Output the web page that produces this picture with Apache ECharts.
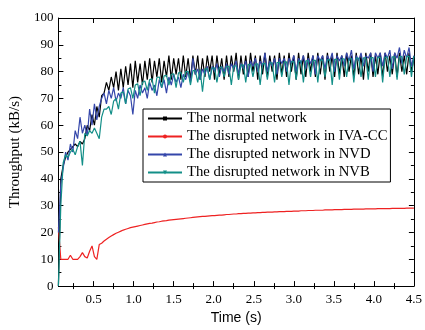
<!DOCTYPE html>
<html>
<head>
<meta charset="utf-8">
<script src="https://cdn.jsdelivr.net/npm/echarts@6/dist/echarts.min.js"></script>
<style>
  html, body { margin: 0; padding: 0; background: #fff; }
  #chart { width: 425px; height: 330px; }
</style>
</head>
<body>
<div id="chart"></div>
<script>
// time samples (s)
const TIME = [
  0.06,0.09,0.12,0.15,0.18,0.21,0.24,0.27,0.30,0.33,
  0.36,0.39,0.42,0.45,0.48,0.51,0.54,0.57,0.60,0.63,
  0.66,0.69,0.72,0.75,0.78,0.81,0.84,0.87,0.90,0.93,
  0.96,0.99,1.02,1.05,1.08,1.11,1.14,1.17,1.20,1.23,
  1.26,1.29,1.32,1.35,1.38,1.41,1.44,1.47,1.50,1.53,
  1.56,1.59,1.62,1.65,1.68,1.71,1.74,1.77,1.80,1.83,
  1.86,1.89,1.92,1.95,1.98,2.01,2.04,2.07,2.10,2.13,
  2.16,2.19,2.22,2.25,2.28,2.31,2.34,2.37,2.40,2.43,
  2.46,2.49,2.52,2.55,2.58,2.61,2.64,2.67,2.70,2.73,
  2.76,2.79,2.82,2.85,2.88,2.91,2.94,2.97,3.00,3.03,
  3.06,3.09,3.12,3.15,3.18,3.21,3.24,3.27,3.30,3.33,
  3.36,3.39,3.42,3.45,3.48,3.51,3.54,3.57,3.60,3.63,
  3.66,3.69,3.72,3.75,3.78,3.81,3.84,3.87,3.90,3.93,
  3.96,3.99,4.02,4.05,4.08,4.11,4.14,4.17,4.20,4.23,
  4.26,4.29,4.32,4.35,4.38,4.41,4.44,4.47,4.50
];

// throughput (kB/s), one value per TIME sample
const NORMAL = [
  0,40,45,48,50,51,52,53,52,54,
  53,55,60,58,64,60,67,63,71,72,
  76,73,78,74,80,73,81,74,82,75,
  83,74,84,76,83,75,84,77,85,76,
  84,78,85,76,84,78,86,77,85,79,
  85,77,86,78,85,77,86,79,86,77,
  85,78,86,80,86,77,86,79,85,77,
  86,78,86,80,87,77,86,79,86,78,
  87,80,86,77,86,79,87,78,86,80,
  86,77,87,79,86,78,87,80,86,77,
  87,79,86,78,87,80,86,78,87,79,
  86,77,87,80,86,78,87,79,86,78,
  87,80,86,78,87,79,86,77,87,80,
  87,78,86,79,87,78,87,80,86,79,
  87,78,87,80,86,79,87,80,85
];

const IVACC = [
  22,10,10,10,10,11.5,10,10,10,11,
  12.5,11,10.5,13,15,11,10,15.5,16,16.8,
  17.5,18.1,18.7,19.2,19.7,20.1,20.5,20.9,21.2,21.5,
  21.8,22.0,22.2,22.4,22.6,22.8,23.0,23.2,23.4,23.5,
  23.7,23.9,24.0,24.2,24.3,24.4,24.6,24.7,24.8,24.9,
  25.0,25.1,25.2,25.3,25.4,25.5,25.6,25.7,25.8,25.9,
  26.0,26.0,26.1,26.2,26.3,26.3,26.4,26.5,26.5,26.6,
  26.7,26.7,26.8,26.9,26.9,27.0,27.0,27.1,27.1,27.2,
  27.2,27.3,27.3,27.4,27.4,27.5,27.5,27.6,27.6,27.6,
  27.7,27.7,27.8,27.8,27.8,27.9,27.9,27.9,28.0,28.0,
  28.0,28.1,28.1,28.1,28.2,28.2,28.2,28.3,28.3,28.3,
  28.3,28.4,28.4,28.4,28.4,28.5,28.5,28.5,28.5,28.6,
  28.6,28.6,28.6,28.7,28.7,28.7,28.7,28.7,28.8,28.8,
  28.8,28.8,28.8,28.9,28.9,28.9,28.9,28.9,28.9,29.0,
  29.0,29.0,29.0,29.0,29.0,29.1,29.1,29.1,29.1
];

const NVD = [
  20,38,44,50,47,53,50,58,55,63,
  57,60,56,66,60,68,62,67,70,72,
  68,73,70,74,69,72,70,74,68,73,
  71,64,73,70,75,72,74,70,76,73,
  75,71,77,74,77,72,78,75,79,76,
  78,74,79,77,80,76,85,79,81,77,
  81,79,82,77,82,80,83,78,82,80,
  83,79,83,81,84,79,83,81,84,78,
  84,82,85,80,84,82,87,80,84,82,
  85,79,85,83,85,80,85,83,86,80,
  85,83,86,81,85,83,86,79,86,84,
  86,81,86,84,87,80,86,84,86,82,
  87,84,88,81,86,84,87,82,86,85,
  87,80,87,85,87,82,87,85,88,81,
  87,85,89,83,88,85,89,82,86
];

const NVB = [
  0,30,46,49,48,50,51,49,52,54,
  45,57,56,58,57,59,57,55,63,66,
  66,67,64,69,70,66,72,72.5,68,73.5,
  74,70,75,75.5,71,76,76.5,73,77,77.3,
  72,77.8,78,74,78.4,78.6,75,79,79.2,74,
  79.5,79.7,76,80,80.1,75,80.4,80.5,76,80.8,
  72.5,81,81.1,77,81.3,81.4,76,81.6,81.7,78,
  81.9,82,75,82.1,82.2,77,82.4,82.5,76,82.6,
  82.7,78,82.8,82.9,75,83,83.1,77,83.2,83.3,
  76,83.4,83.5,78,83.6,83.6,75,83.7,83.8,77,
  83.9,84,76,84,84.1,78,84.2,84.2,76,84.3,
  84.4,78,84.4,84.5,75,84.6,84.6,77,84.7,84.8,
  78,84.8,84.9,76,85,85,78,85.1,85.1,77,
  85.2,85.2,78,85.3,85.3,76,85.4,85.4,78,85.5,
  85.5,77,85.6,85.6,79,85.7,85.7,78,85.8
];

const SERIES_NAMES = [
  'The normal network',
  'The disrupted network in IVA-CC',
  'The disrupted network in NVD',
  'The disrupted network in NVB'
];
const X_MAJOR = [0.5, 1.0, 1.5, 2.0, 2.5, 3.0, 3.5, 4.0, 4.5];
const X_MINOR = [0.25, 0.75, 1.25, 1.75, 2.25, 2.75, 3.25, 3.75, 4.25];

const SERIF = '"Liberation Serif", "Times New Roman", serif';
const SANS = '"Liberation Sans", Arial, sans-serif';

const chart = echarts.init(document.getElementById('chart'), null, { renderer: 'canvas' });

function pairs(ys) {
  return TIME.map((t, i) => [t, ys[i]]);
}

function line(name, ys, color, symbol, rotate) {
  return {
    name,
    type: 'line',
    data: pairs(ys),
    xAxisIndex: 0,
    yAxisIndex: 0,
    symbol,
    symbolRotate: rotate || 0,
    showSymbol: false,
    silent: true,
    lineStyle: { width: 1.2, color },
    itemStyle: { color },
    emphasis: { disabled: true }
  };
}

const axisLine = { show: true, onZero: false, lineStyle: { color: '#000', width: 1 } };

const xBase = {
  type: 'value',
  min: 0.06,
  max: 4.5,
  splitLine: { show: false },
  axisLine
};

const option = {
  animation: false,
  backgroundColor: '#fff',
  grid: { left: 57, right: 7, top: 18, bottom: 43 },
  legend: {
    data: SERIES_NAMES,
    orient: 'vertical',
    left: 143,
    top: 109,
    itemWidth: 34,
    itemHeight: 5,
    itemGap: 3,
    padding: [2, 3, 2, 4],
    borderColor: '#000',
    borderWidth: 1,
    backgroundColor: '#fff',
    selectedMode: false,
    textStyle: { fontFamily: SERIF, fontSize: 14.7, color: '#000' }
  },
  xAxis: [
    Object.assign({}, xBase, {
      position: 'bottom',
      axisTick: { show: true, inside: true, length: 5, customValues: X_MAJOR, lineStyle: { color: '#000' } },
      axisLabel: {
        customValues: X_MAJOR,
        formatter: (v) => v.toFixed(1),
        fontFamily: SERIF, fontSize: 13, color: '#000', margin: 7
      },
      name: 'Time (s)',
      nameLocation: 'middle',
      nameGap: 21,
      nameTextStyle: { fontFamily: SANS, fontSize: 14, color: '#000' }
    }),
    Object.assign({}, xBase, {
      position: 'bottom',
      axisLine: { show: false },
      axisTick: { show: true, inside: true, length: 3, customValues: X_MINOR, lineStyle: { color: '#000' } },
      axisLabel: { show: false }
    }),
    Object.assign({}, xBase, {
      position: 'top',
      axisTick: { show: true, inside: true, length: 5, customValues: X_MAJOR, lineStyle: { color: '#000' } },
      axisLabel: { show: false }
    }),
    Object.assign({}, xBase, {
      position: 'top',
      axisLine: { show: false },
      axisTick: { show: true, inside: true, length: 3, customValues: X_MINOR, lineStyle: { color: '#000' } },
      axisLabel: { show: false }
    })
  ],
  yAxis: [
    {
      type: 'value',
      position: 'left',
      min: 0,
      max: 100,
      interval: 10,
      axisLine,
      axisTick: { show: true, inside: true, length: 5, lineStyle: { color: '#000' } },
      minorTick: { show: true, splitNumber: 2, length: 3, lineStyle: { color: '#000' } },
      splitLine: { show: false },
      axisLabel: { fontFamily: SERIF, fontSize: 13, color: '#000', margin: 5 },
      name: 'Throughput (kB/s)',
      nameLocation: 'middle',
      nameGap: 33,
      nameTextStyle: { fontFamily: SERIF, fontSize: 15, color: '#000' }
    },
    {
      type: 'value',
      position: 'right',
      min: 0,
      max: 100,
      interval: 10,
      axisLine,
      axisTick: { show: true, inside: true, length: 5, lineStyle: { color: '#000' } },
      minorTick: { show: true, splitNumber: 2, length: 3, lineStyle: { color: '#000' } },
      splitLine: { show: false },
      axisLabel: { show: false }
    }
  ],
  series: [
    line(SERIES_NAMES[0], NORMAL, '#000000', 'rect'),
    line(SERIES_NAMES[1], IVACC, '#ee2222', 'circle'),
    line(SERIES_NAMES[2], NVD, '#3446aa', 'triangle'),
    line(SERIES_NAMES[3], NVB, '#138f88', 'triangle', 180)
  ]
};

chart.setOption(option);
</script>
</body>
</html>
